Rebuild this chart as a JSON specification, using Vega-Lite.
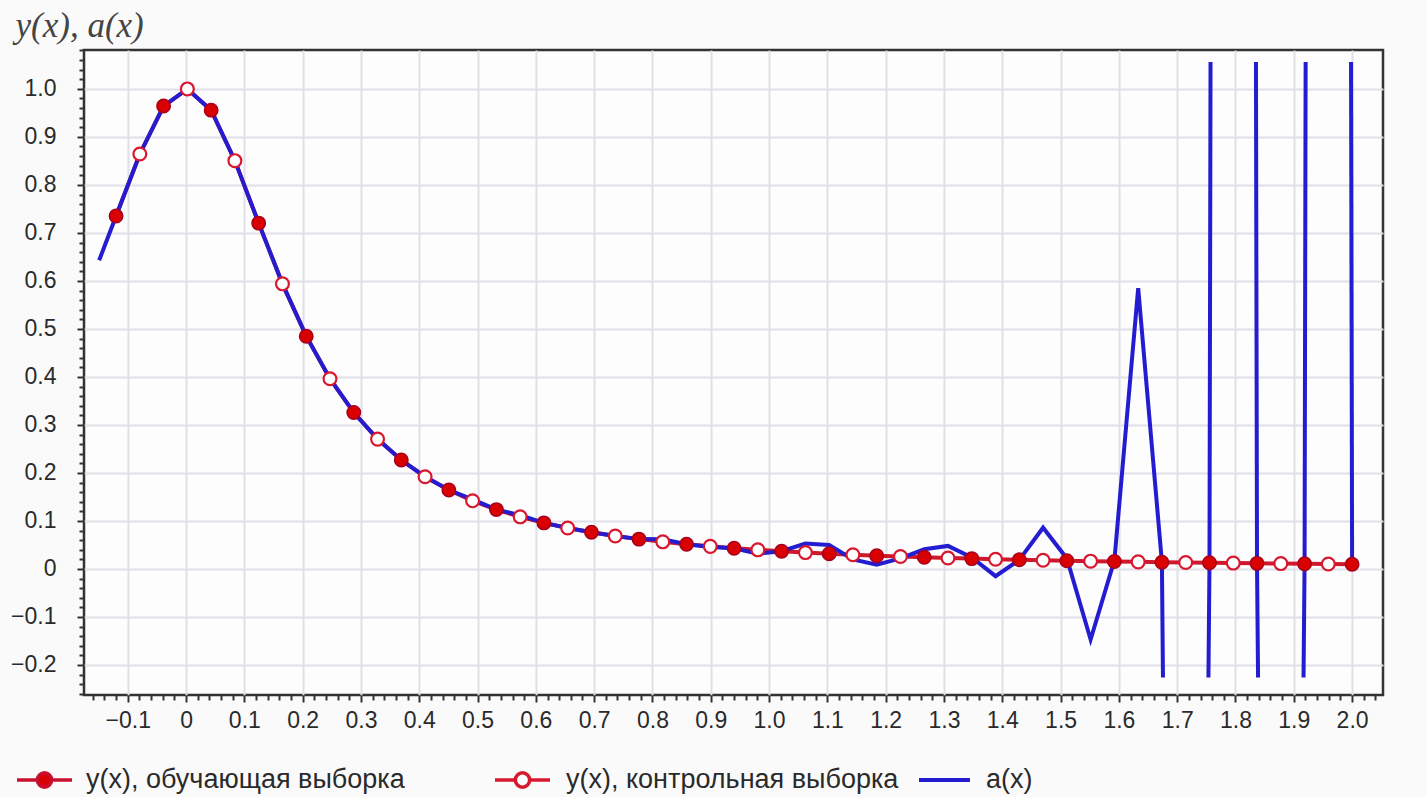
{
  "$schema": "https://vega.github.io/schema/vega-lite/v6.json",
  "width": 1299,
  "height": 645,
  "autosize": "none",
  "padding": {"left": 84, "top": 50, "right": 43, "bottom": 102},
  "background": "#fafafa",
  "config": {
    "view": {"stroke": "#333333", "strokeWidth": 2.5, "fill": "#fdfdfd"},
    "axis": {"domain": false, "labelFont": "Liberation Sans", "labelFontSize": 23, "labelColor": "#2a2a2a", "tickColor": "#333333", "tickWidth": 2, "gridColor": "#e0e0e8", "gridWidth": 2, "labelOverlap": false, "labelFlush": false}
  },
  "datasets": {
    "ys": [
      {"x": -0.12, "y": 0.7353, "set": "train"},
      {"x": -0.0792, "y": 0.8644, "set": "control"},
      {"x": -0.0385, "y": 0.9643, "set": "train"},
      {"x": 0.0023, "y": 0.9999, "set": "control"},
      {"x": 0.0431, "y": 0.9557, "set": "train"},
      {"x": 0.0838, "y": 0.8505, "set": "control"},
      {"x": 0.1246, "y": 0.7204, "set": "train"},
      {"x": 0.1654, "y": 0.5939, "set": "control"},
      {"x": 0.2062, "y": 0.4849, "set": "train"},
      {"x": 0.2469, "y": 0.3962, "set": "control"},
      {"x": 0.2877, "y": 0.3258, "set": "train"},
      {"x": 0.3285, "y": 0.2705, "set": "control"},
      {"x": 0.3692, "y": 0.2269, "set": "train"},
      {"x": 0.41, "y": 0.1922, "set": "control"},
      {"x": 0.4508, "y": 0.1645, "set": "train"},
      {"x": 0.4915, "y": 0.142, "set": "control"},
      {"x": 0.5323, "y": 0.1237, "set": "train"},
      {"x": 0.5731, "y": 0.1086, "set": "control"},
      {"x": 0.6138, "y": 0.096, "set": "train"},
      {"x": 0.6546, "y": 0.0854, "set": "control"},
      {"x": 0.6954, "y": 0.0764, "set": "train"},
      {"x": 0.7362, "y": 0.0687, "set": "control"},
      {"x": 0.7769, "y": 0.0622, "set": "train"},
      {"x": 0.8177, "y": 0.0565, "set": "control"},
      {"x": 0.8585, "y": 0.0515, "set": "train"},
      {"x": 0.8992, "y": 0.0471, "set": "control"},
      {"x": 0.94, "y": 0.0433, "set": "train"},
      {"x": 0.9808, "y": 0.0399, "set": "control"},
      {"x": 1.0215, "y": 0.0369, "set": "train"},
      {"x": 1.0623, "y": 0.0342, "set": "control"},
      {"x": 1.1031, "y": 0.0318, "set": "train"},
      {"x": 1.1438, "y": 0.0297, "set": "control"},
      {"x": 1.1846, "y": 0.0277, "set": "train"},
      {"x": 1.2254, "y": 0.026, "set": "control"},
      {"x": 1.2662, "y": 0.0243, "set": "train"},
      {"x": 1.3069, "y": 0.0229, "set": "control"},
      {"x": 1.3477, "y": 0.0216, "set": "train"},
      {"x": 1.3885, "y": 0.0203, "set": "control"},
      {"x": 1.4292, "y": 0.0192, "set": "train"},
      {"x": 1.47, "y": 0.0182, "set": "control"},
      {"x": 1.5108, "y": 0.0172, "set": "train"},
      {"x": 1.5515, "y": 0.0163, "set": "control"},
      {"x": 1.5923, "y": 0.0155, "set": "train"},
      {"x": 1.6331, "y": 0.0148, "set": "control"},
      {"x": 1.6738, "y": 0.0141, "set": "train"},
      {"x": 1.7146, "y": 0.0134, "set": "control"},
      {"x": 1.7554, "y": 0.0128, "set": "train"},
      {"x": 1.7962, "y": 0.0123, "set": "control"},
      {"x": 1.8369, "y": 0.0117, "set": "train"},
      {"x": 1.8777, "y": 0.0112, "set": "control"},
      {"x": 1.9185, "y": 0.0108, "set": "train"},
      {"x": 1.9592, "y": 0.0103, "set": "control"},
      {"x": 2.0, "y": 0.0099, "set": "train"}
    ],
    "as": [
      {"x": -0.149, "y": 0.643, "seg": 0},
      {"x": -0.12, "y": 0.7353, "seg": 0},
      {"x": -0.0792, "y": 0.8644, "seg": 0},
      {"x": -0.0385, "y": 0.9643, "seg": 0},
      {"x": 0.0023, "y": 0.9999, "seg": 0},
      {"x": 0.0431, "y": 0.9557, "seg": 0},
      {"x": 0.0838, "y": 0.8505, "seg": 0},
      {"x": 0.1246, "y": 0.7204, "seg": 0},
      {"x": 0.1654, "y": 0.5939, "seg": 0},
      {"x": 0.2062, "y": 0.4849, "seg": 0},
      {"x": 0.2469, "y": 0.3962, "seg": 0},
      {"x": 0.2877, "y": 0.3258, "seg": 0},
      {"x": 0.3285, "y": 0.2705, "seg": 0},
      {"x": 0.3692, "y": 0.2269, "seg": 0},
      {"x": 0.41, "y": 0.1922, "seg": 0},
      {"x": 0.4508, "y": 0.1645, "seg": 0},
      {"x": 0.4915, "y": 0.145, "seg": 0},
      {"x": 0.5323, "y": 0.1237, "seg": 0},
      {"x": 0.5731, "y": 0.112, "seg": 0},
      {"x": 0.6138, "y": 0.096, "seg": 0},
      {"x": 0.6546, "y": 0.0854, "seg": 0},
      {"x": 0.6954, "y": 0.0764, "seg": 0},
      {"x": 0.7362, "y": 0.0687, "seg": 0},
      {"x": 0.7769, "y": 0.0622, "seg": 0},
      {"x": 0.8177, "y": 0.062, "seg": 0},
      {"x": 0.8585, "y": 0.0515, "seg": 0},
      {"x": 0.8992, "y": 0.046, "seg": 0},
      {"x": 0.94, "y": 0.0433, "seg": 0},
      {"x": 0.9808, "y": 0.032, "seg": 0},
      {"x": 1.0215, "y": 0.0369, "seg": 0},
      {"x": 1.0623, "y": 0.053, "seg": 0},
      {"x": 1.1031, "y": 0.05, "seg": 0},
      {"x": 1.1438, "y": 0.02, "seg": 0},
      {"x": 1.1846, "y": 0.009, "seg": 0},
      {"x": 1.2254, "y": 0.022, "seg": 0},
      {"x": 1.2662, "y": 0.041, "seg": 0},
      {"x": 1.3069, "y": 0.048, "seg": 0},
      {"x": 1.3477, "y": 0.024, "seg": 0},
      {"x": 1.3885, "y": -0.015, "seg": 0},
      {"x": 1.4292, "y": 0.019, "seg": 0},
      {"x": 1.47, "y": 0.086, "seg": 0},
      {"x": 1.5108, "y": 0.022, "seg": 0},
      {"x": 1.5515, "y": -0.147, "seg": 0},
      {"x": 1.5923, "y": 0.018, "seg": 0},
      {"x": 1.6331, "y": 0.585, "seg": 0},
      {"x": 1.6738, "y": 0.014, "seg": 0},
      {"x": 1.6756, "y": -0.226, "seg": 0},
      {"x": 1.7536, "y": -0.226, "seg": 1},
      {"x": 1.7554, "y": 0.0128, "seg": 1},
      {"x": 1.7572, "y": 1.056, "seg": 1},
      {"x": 1.8351, "y": 1.056, "seg": 2},
      {"x": 1.8369, "y": 0.0117, "seg": 2},
      {"x": 1.8387, "y": -0.226, "seg": 2},
      {"x": 1.9167, "y": -0.226, "seg": 3},
      {"x": 1.9185, "y": 0.0108, "seg": 3},
      {"x": 1.9203, "y": 1.056, "seg": 3},
      {"x": 1.9982, "y": 1.056, "seg": 4},
      {"x": 2.0, "y": 0.0099, "seg": 4}
    ]
  },
  "encoding": {
    "x": {
      "field": "x", "type": "quantitative",
      "scale": {"domain": [-0.175, 2.053], "nice": false, "zero": false},
      "axis": {
        "title": null,
        "values": [-0.16,-0.14,-0.12,-0.1,-0.08,-0.06,-0.04,-0.02,0,0.02,0.04,0.06,0.08,0.1,0.12,0.14,0.16,0.18,0.2,0.22,0.24,0.26,0.28,0.3,0.32,0.34,0.36,0.38,0.4,0.42,0.44,0.46,0.48,0.5,0.52,0.54,0.56,0.58,0.6,0.62,0.64,0.66,0.68,0.7,0.72,0.74,0.76,0.78,0.8,0.82,0.84,0.86,0.88,0.9,0.92,0.94,0.96,0.98,1,1.02,1.04,1.06,1.08,1.1,1.12,1.14,1.16,1.18,1.2,1.22,1.24,1.26,1.28,1.3,1.32,1.34,1.36,1.38,1.4,1.42,1.44,1.46,1.48,1.5,1.52,1.54,1.56,1.58,1.6,1.62,1.64,1.66,1.68,1.7,1.72,1.74,1.76,1.78,1.8,1.82,1.84,1.86,1.88,1.9,1.92,1.94,1.96,1.98,2,2.02,2.04],
        "labelExpr": "abs(datum.value*10 - round(datum.value*10)) < 0.001 ? (abs(datum.value) < 0.001 ? '0' : format(datum.value, '.1f')) : ''",
        "gridOpacity": {"condition": {"test": "abs(datum.value*10 - round(datum.value*10)) < 0.001", "value": 1}, "value": 0},
        "tickSize": {"condition": {"test": "abs(datum.value*10 - round(datum.value*10)) < 0.001", "value": 7}, "value": 5},
        "labelPadding": 7
      }
    },
    "y": {
      "field": "y", "type": "quantitative",
      "scale": {"domain": [-0.2625, 1.081], "nice": false, "zero": false},
      "axis": {
        "title": "y(x), a(x)",
        "titleAngle": 0, "titleAlign": "left", "titleBaseline": "alphabetic",
        "titleX": -69, "titleY": -14,
        "titleFont": "Liberation Serif", "titleFontStyle": "italic", "titleFontWeight": "normal", "titleFontSize": 35, "titleColor": "#444444",
        "values": [-0.26,-0.24,-0.22,-0.2,-0.18,-0.16,-0.14,-0.12,-0.1,-0.08,-0.06,-0.04,-0.02,0,0.02,0.04,0.06,0.08,0.1,0.12,0.14,0.16,0.18,0.2,0.22,0.24,0.26,0.28,0.3,0.32,0.34,0.36,0.38,0.4,0.42,0.44,0.46,0.48,0.5,0.52,0.54,0.56,0.58,0.6,0.62,0.64,0.66,0.68,0.7,0.72,0.74,0.76,0.78,0.8,0.82,0.84,0.86,0.88,0.9,0.92,0.94,0.96,0.98,1,1.02,1.04,1.06,1.08],
        "labelExpr": "abs(datum.value*10 - round(datum.value*10)) < 0.001 ? (abs(datum.value) < 0.001 ? '0' : format(datum.value, '.1f')) : ''",
        "gridOpacity": {"condition": {"test": "abs(datum.value*10 - round(datum.value*10)) < 0.001", "value": 1}, "value": 0},
        "tickSize": {"condition": {"test": "abs(datum.value*10 - round(datum.value*10)) < 0.001", "value": 7}, "value": 5},
        "labelPadding": 21
      }
    }
  },
  "layer": [
    {
      "data": {"name": "ys"},
      "mark": {"type": "line", "color": "#d0182c", "strokeWidth": 4},
      "encoding": {}
    },
    {
      "data": {"name": "as"},
      "mark": {"type": "line", "strokeWidth": 4},
      "encoding": {
        "detail": {"field": "seg", "type": "nominal"},
        "color": {
          "datum": "a(x)",
          "scale": {"range": ["#241cd0"]},
          "legend": {
            "orient": "none", "legendX": 833, "legendY": 702.5, "title": null,
            "symbolType": "M-1,0H1", "symbolSize": 2601, "symbolStrokeWidth": 4,
            "labelFont": "Liberation Sans", "labelFontSize": 27, "labelColor": "#2a2a2a", "labelOffset": 14, "labelLimit": 0
          }
        }
      }
    },
    {
      "data": {"name": "ys"},
      "transform": [{"filter": "datum.set === 'train'"}],
      "mark": {"type": "point", "filled": true, "size": 180, "stroke": "#a8001c", "strokeWidth": 1.5, "opacity": 1},
      "encoding": {
        "fill": {
          "datum": "y(x), обучающая выборка",
          "scale": {"range": ["#d80000"]},
          "legend": {
            "orient": "none", "legendX": -69, "legendY": 700.5, "title": null,
            "symbolType": "M-1,0H-0.26M0.26,0H1M-0.26,0A0.26,0.26,0,1,0,0.26,0A0.26,0.26,0,1,0,-0.26,0",
            "symbolSize": 3025, "symbolStrokeColor": "#c8102e", "symbolStrokeWidth": 3.5,
            "labelFont": "Liberation Sans", "labelFontSize": 27, "labelColor": "#2a2a2a", "labelOffset": 12, "labelLimit": 0
          }
        }
      }
    },
    {
      "data": {"name": "ys"},
      "transform": [{"filter": "datum.set === 'control'"}],
      "mark": {"type": "point", "filled": false, "fill": "#ffffff", "fillOpacity": 1, "size": 165, "strokeWidth": 2.2, "opacity": 1},
      "encoding": {
        "stroke": {
          "datum": "y(x), контрольная выборка",
          "scale": {"range": ["#d8182e"]},
          "legend": {
            "orient": "none", "legendX": 409, "legendY": 700.5, "title": null,
            "symbolType": "M-1,0H-0.26M0.26,0H1M-0.26,0A0.26,0.26,0,1,0,0.26,0A0.26,0.26,0,1,0,-0.26,0",
            "symbolSize": 3025, "symbolFillColor": "#ffffff", "symbolStrokeWidth": 3.5,
            "labelFont": "Liberation Sans", "labelFontSize": 27, "labelColor": "#2a2a2a", "labelOffset": 14, "labelLimit": 0,
            "encode": {"symbols": {"update": {"fill": {"value": "#ffffff"}, "fillOpacity": {"value": 1}}}}
          }
        }
      }
    }
  ]
}
